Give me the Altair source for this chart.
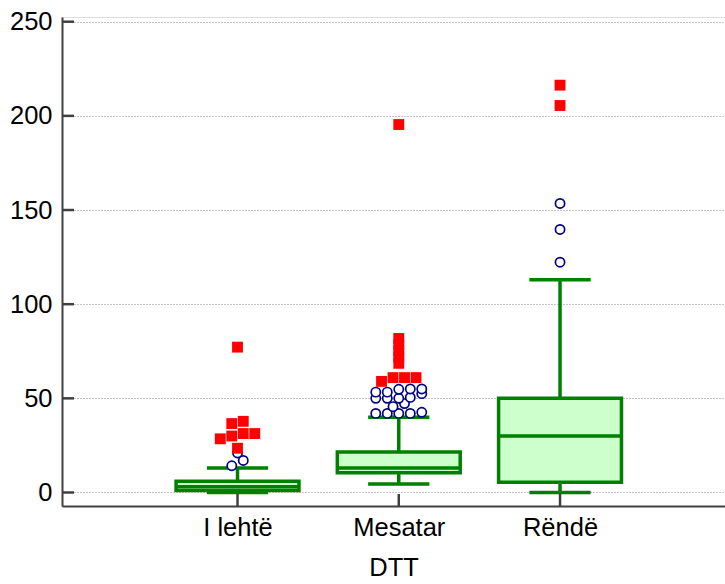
import altair as alt
import pandas as pd

# Categories of DTT and their box-plot summaries
groups = ["I lehtë", "Mesatar", "Rëndë"]
positions = [1, 2, 3]
q1 = [1, 10.5, 5.5]
medians = [3, 13, 30]
q3 = [6, 21.5, 50]
whisker_low = [0, 4.5, 0]
whisker_high = [13, 40, 113]

# Outside values (open circles) per category
outside_lehte = [14.2, 17, 21]
outside_mesatar = [42, 42, 42, 42, 42.6, 45.6, 47.2, 50, 50, 50, 50.5, 52.5,
                   53.3, 53.3, 54.8, 55, 55]
outside_rende = [122.3, 139.7, 153.5]

# Far-out values (filled squares) per category
far_lehte = [23.5, 28.5, 30, 31.3, 31.3, 36.6, 37.8, 77.2]
far_mesatar = [59, 61, 61, 61, 68.6, 72, 75.2, 78.5, 81.8, 195.4]
far_rende = [205.5, 216.3]

y_ticks = [0, 50, 100, 150, 200, 250]

GREEN = "#008000"
BOX_FILL = "#ccffcc"
AXIS_GREY = "#404040"
FONT = "Liberation Sans"
FONT_SIZE = 25.5
LINE_W = 3.5

BOX_HALF = 0.381      # half box width in x units
CAP_HALF = 0.19       # half whisker-cap width in x units
SLOT = 0.0713         # horizontal spacing between side-by-side markers
ROW_SPAN = 3.0        # values closer than this share a row of markers


def spread(values):
    """Place nearly equal values side by side, centred on the category."""
    vals = sorted(values)
    rows, row = [], []
    for v in vals:
        if row and v - row[0] >= ROW_SPAN:
            rows.append(row)
            row = []
        row.append(v)
    if row:
        rows.append(row)
    out = []
    for r in rows:
        n = len(r)
        for i, v in enumerate(r):
            out.append((v, i - (n - 1) / 2))
    return out


box_df = pd.DataFrame({
    "group": groups, "pos": positions, "q1": q1, "median": medians,
    "q3": q3, "lo": whisker_low, "hi": whisker_high,
})

records = []
for pos, outs, fars in zip(positions,
                           [outside_lehte, outside_mesatar, outside_rende],
                           [far_lehte, far_mesatar, far_rende]):
    for v, s in spread(outs):
        records.append({"pos": pos, "value": v, "slot": s, "kind": "outside"})
    for v, s in spread(fars):
        records.append({"pos": pos, "value": v, "slot": s, "kind": "far"})
pts_df = pd.DataFrame(records)

label_expr = "[''," + ",".join("'" + g + "'" for g in groups) + "][datum.value]"

x_scale = alt.Scale(domain=[-0.0884, 4.023], nice=False, zero=False)
y_scale = alt.Scale(domain=[-7.17, 252.5], nice=False, zero=False)

x_axis = alt.Axis(values=positions, labelExpr=label_expr, grid=False, ticks=False,
                  domainColor=AXIS_GREY, domainWidth=2, labelFontSize=FONT_SIZE,
                  labelColor="black", labelPadding=9, labelFont=FONT,
                  labelFlush=False, labelOverlap=False,
                  title="DTT", titleFontSize=FONT_SIZE, titleFontWeight="normal",
                  titleColor="black", titleFont=FONT, titlePadding=15)
y_axis = alt.Axis(values=y_ticks, grid=True, gridDash=[1, 2], gridColor="#8c8c8c",
                  gridWidth=1, ticks=False, domainColor=AXIS_GREY, domainWidth=2,
                  labelFontSize=FONT_SIZE, labelColor="black", labelPadding=10,
                  labelFont=FONT, labelFlush=False, labelOverlap=False, title=None)


def X(field):
    return alt.X(field, type="quantitative", scale=x_scale, axis=x_axis)


def Y(field):
    return alt.Y(field, type="quantitative", scale=y_scale, axis=y_axis)


base = alt.Chart(box_df).transform_calculate(
    left=f"datum.pos - {BOX_HALF}", right=f"datum.pos + {BOX_HALF}",
    capl=f"datum.pos - {CAP_HALF}", capr=f"datum.pos + {CAP_HALF}",
)

stems = base.mark_rule(color=GREEN, strokeWidth=LINE_W).encode(
    x=X("pos"), y=Y("lo"), y2="hi")
boxes = base.mark_rect(fill=BOX_FILL, stroke=GREEN, strokeWidth=LINE_W).encode(
    x=X("left"), x2="right", y=Y("q1"), y2="q3")
median_lines = base.mark_rule(color=GREEN, strokeWidth=LINE_W).encode(
    x=X("left"), x2="right", y=Y("median"))
caps_hi = base.mark_rule(color=GREEN, strokeWidth=LINE_W).encode(
    x=X("capl"), x2="capr", y=Y("hi"))
caps_lo = base.mark_rule(color=GREEN, strokeWidth=LINE_W).encode(
    x=X("capl"), x2="capr", y=Y("lo"))

# Inward tick marks on both axes
ytick_df = pd.DataFrame({"v": y_ticks})
y_tick_marks = alt.Chart(ytick_df).mark_rule(color=AXIS_GREY, strokeWidth=2.5).encode(
    x=alt.value(0), x2=alt.value(12), y=Y("v"))
x_tick_marks = alt.Chart(box_df).mark_rule(color=AXIS_GREY, strokeWidth=2.5).encode(
    x=X("pos"), y=alt.value(489), y2=alt.value(477))

pts = alt.Chart(pts_df).transform_calculate(xp=f"datum.pos + datum.slot * {SLOT}")
circles = pts.transform_filter("datum.kind == 'outside'").mark_point(
    shape="circle", filled=True, fill="white", stroke="#000080", strokeWidth=1.7,
    size=85, opacity=1, fillOpacity=1).encode(x=X("xp"), y=Y("value"))
squares = pts.transform_filter("datum.kind == 'far'").mark_point(
    shape="square", filled=True, color="#ff0000", size=118, opacity=1).encode(
    x=X("xp"), y=Y("value"))

chart = alt.layer(
    stems, boxes, median_lines, caps_hi, caps_lo,
    y_tick_marks, x_tick_marks, circles, squares,
).properties(
    width=663, height=489,
    padding={"left": 62, "top": 17, "right": 0, "bottom": 78},
    autosize=alt.AutoSizeParams(type="none"),
).configure_view(stroke=None).configure(font=FONT, background="white")

chart.save("out.html", embed_options={"renderer": "svg", "actions": False})
